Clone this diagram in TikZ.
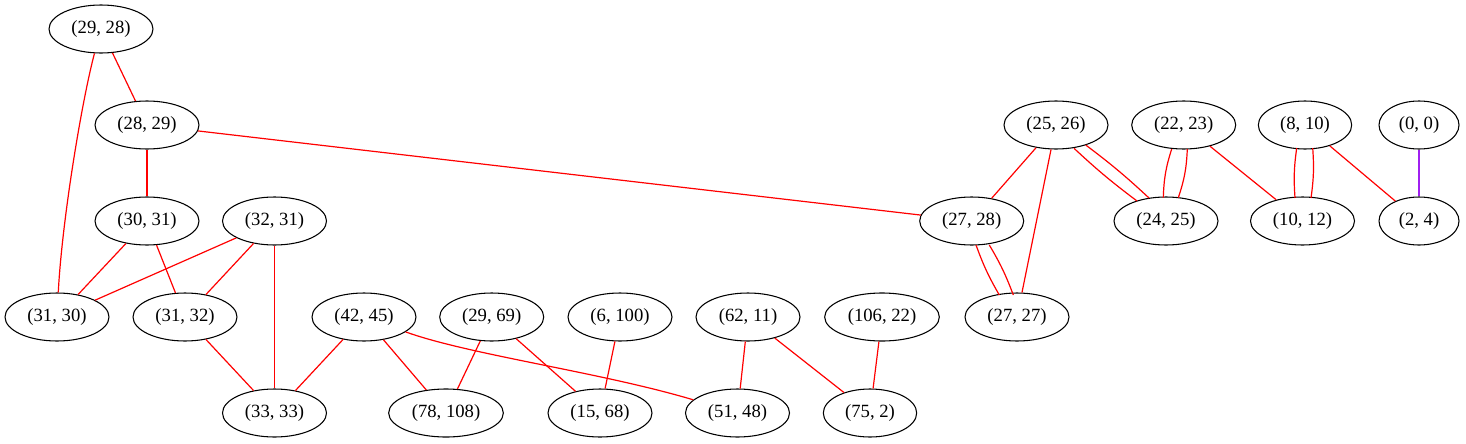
\documentclass[tikz,border=0pt]{standalone}
\usepackage{fontspec}
\setmainfont{Liberation Serif}
\usetikzlibrary{shapes.geometric,calc}
\definecolor{gvpurple}{RGB}{160,32,240}
\begin{document}
\begin{tikzpicture}[x=0.75pt,y=-0.75pt,
  nd/.style={draw=black, line width=0.8pt, ellipse, inner sep=0pt,
    minimum width=78pt, minimum height=36pt,
    font=\fontsize{14pt}{16pt}\selectfont},
  wa/.style={minimum width=60pt},
  wb/.style={minimum width=70pt},
  wc/.style={minimum width=86pt},
  ed/.style={draw=red, line width=0.9pt},
  pe/.style={draw=gvpurple, line width=0.9pt}]
\useasboundingbox (0,0) rectangle (1466,443);
% nodes
\node[nd] (n2928) at (101,29) {(29, 28)};
\node[nd] (n2829) at (147,125) {(28, 29)};
\node[nd] (n3031) at (147,221) {(30, 31)};
\node[nd] (n3231) at (274.5,221) {(32, 31)};
\node[nd] (n3130) at (57,317) {(31, 30)};
\node[nd] (n3132) at (185,317) {(31, 32)};
\node[nd] (n4245) at (364,317) {(42, 45)};
\node[nd] (n2969) at (491.7,317) {(29, 69)};
\node[nd] (n6100) at (620,317) {(6, 100)};
\node[nd] (n6211) at (748,317) {(62, 11)};
\node[nd,wc] (n10622) at (882,317) {(106, 22)};
\node[nd] (n3333) at (274.5,413) {(33, 33)};
\node[nd,wc] (n78108) at (446,413) {(78, 108)};
\node[nd] (n1568) at (600,413) {(15, 68)};
\node[nd] (n5148) at (737.5,413) {(51, 48)};
\node[nd,wb] (n752) at (870,413) {(75, 2)};
\node[nd] (n2526) at (1056,125) {(25, 26)};
\node[nd] (n2223) at (1183.7,125) {(22, 23)};
\node[nd,wb] (n810) at (1305,125) {(8, 10)};
\node[nd,wa] (n00) at (1419,125) {(0, 0)};
\node[nd] (n2728) at (971.7,221) {(27, 28)};
\node[nd] (n2425) at (1166,221) {(24, 25)};
\node[nd] (n1012) at (1302.5,221) {(10, 12)};
\node[nd,wa] (n24) at (1419,221) {(2, 4)};
\node[nd] (n2727) at (1017,317) {(27, 27)};
% edges
\draw[ed] (n2928) -- (n2829);
\draw[ed] (n2928) .. controls (82,100) and (62,220) .. (n3130);
\draw[ed] (n2829) -- (n3031);
\draw[ed] (n2829) -- (n2728);
\draw[ed] (n3031) -- (n3130);
\draw[ed] (n3031) -- (n3132);
\draw[ed] (n3231) -- (n3130);
\draw[ed] (n3231) -- (n3132);
\draw[ed] (n3231) -- (n3333);
\draw[ed] (n3132) -- (n3333);
\draw[ed] (n4245) -- (n3333);
\draw[ed] (n4245) -- (n78108);
\draw[ed] (n4245) .. controls (470,355) and (600,372) .. (n5148);
\draw[ed] (n2969) -- (n78108);
\draw[ed] (n2969) -- (n1568);
\draw[ed] (n6100) -- (n1568);
\draw[ed] (n6211) -- (n5148);
\draw[ed] (n6211) -- (n752);
\draw[ed] (n10622) -- (n752);
\draw[ed] (n2526) -- (n2728);
\draw[ed] (n2526) -- (n2727);
% double edges
\draw[ed] ($(n2526)+(18,23.3)$) to[bend right=3] ($(n2425)+(-29,-20)$);
\draw[ed] ($(n2526)+(29.7,20)$) to[bend left=3] ($(n2425)+(-17,-23)$);
\draw[ed] ($(n2223)+(-12,24)$) to[bend right=8] ($(n2425)+(-2.7,-23.3)$);
\draw[ed] ($(n2223)+(3.6,24)$) to[bend left=8] ($(n2425)+(12.3,-23.3)$);
\draw[ed] ($(n810)+(-8.3,23)$) to[bend right=6] ($(n1012)+(-7.5,-23)$);
\draw[ed] ($(n810)+(7.7,23)$) to[bend left=6] ($(n1012)+(8.5,-23)$);
\draw[ed] ($(n2728)+(4.3,24)$) to[bend right=5] ($(n2727)+(-17.7,-22)$);
\draw[ed] ($(n2728)+(17.6,24)$) to[bend left=5] ($(n2727)+(-3.7,-22)$);
\draw[ed] (n2223) -- (n1012);
\draw[ed] (n810) -- (n24);
\draw[pe] (n00) -- (n24);
\end{tikzpicture}
\end{document}
